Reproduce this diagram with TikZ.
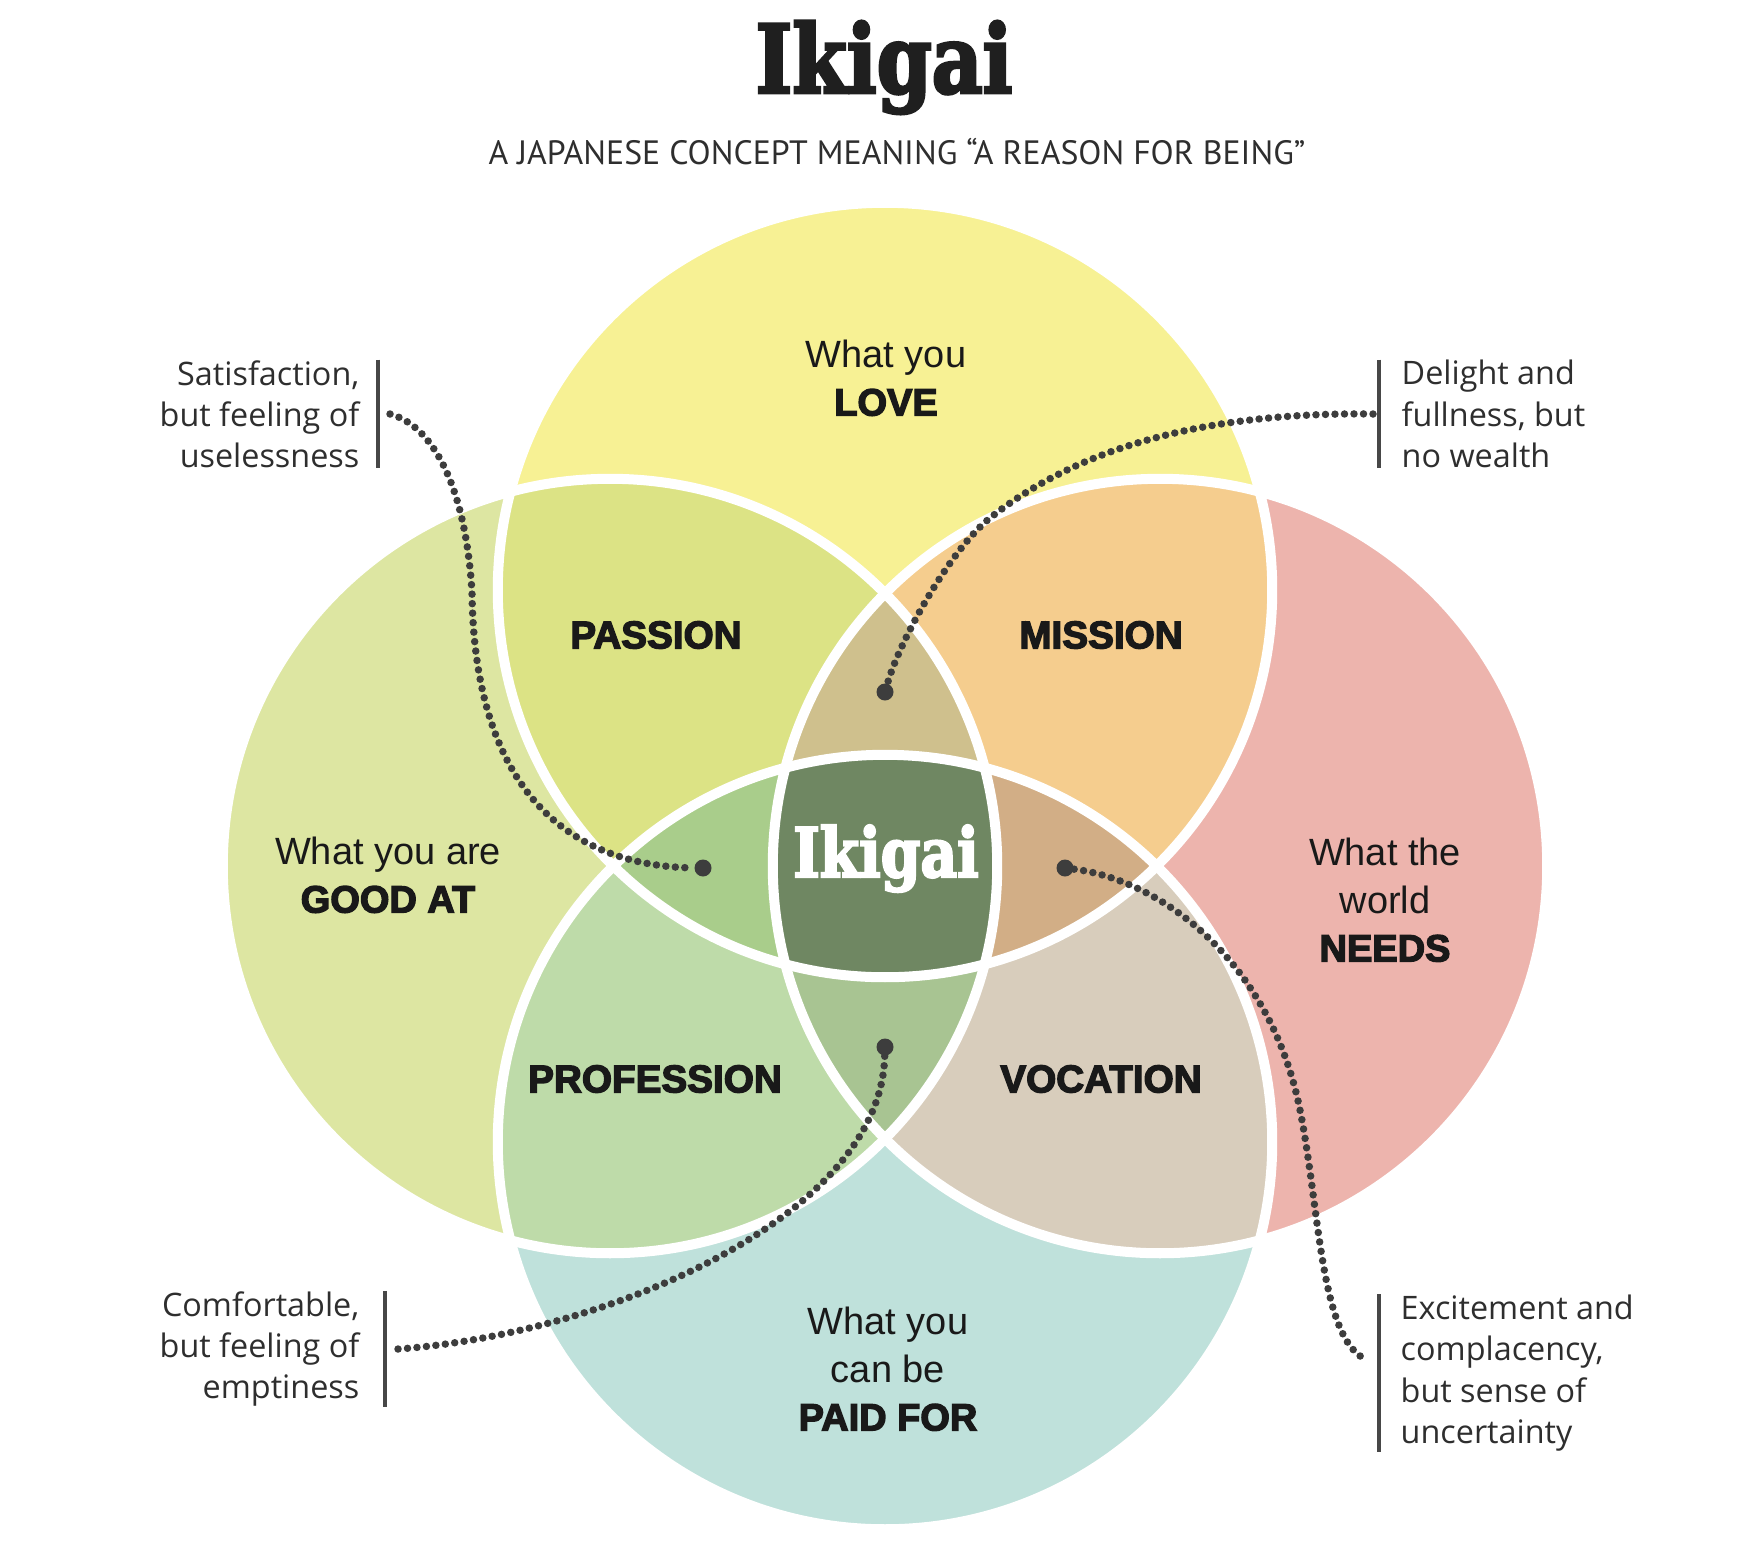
\documentclass[tikz,border=0pt]{standalone}
\usepackage{fontspec}
\setmainfont{Open Sans}
\newfontfamily\helv{Liberation Sans}
\newfontfamily\heavy{Liberation Sans}[BoldFeatures={FakeBold=3.5}]
\newfontfamily\slab{DejaVu Serif Condensed}[FakeStretch=0.92, BoldFeatures={FakeBold=3}]
\newfontfamily\subfont{PT Sans}
\usetikzlibrary{calc}

\definecolor{love}{HTML}{F7F194}
\definecolor{goodat}{HTML}{DDE6A2}
\definecolor{needs}{HTML}{EDB4AD}
\definecolor{paidfor}{HTML}{BFE1DB}
\definecolor{passion}{HTML}{DCE385}
\definecolor{mission}{HTML}{F5CD8E}
\definecolor{profession}{HTML}{BEDBA9}
\definecolor{vocation}{HTML}{D8CDBC}
\definecolor{uppertri}{HTML}{CFC08D}
\definecolor{lefttri}{HTML}{A9CD8B}
\definecolor{righttri}{HTML}{D2AE86}
\definecolor{lowertri}{HTML}{A8C492}
\definecolor{core}{HTML}{6F8762}

\def\rad{3.87cm}
\def\heavyword#1{{\heavy\bfseries #1}}

\tikzset{
  circtext/.style={align=center, inner sep=0pt, text=black!90, font=\helv\fontsize{10.8}{13.6}\selectfont},
  zonetext/.style={inner sep=0pt, text=black!90, font=\heavy\bfseries\fontsize{11}{13}\selectfont},
  calltext/.style={inner sep=0pt, text=black!82, font=\fontsize{9.2}{11.7}\selectfont},
  bar/.style={line width=0.4mm, color=black!72},
  dotline/.style={line width=0.75mm, dash pattern=on 0pt off 0.95mm, line cap=round, color=black!76},
  bigdot/.style={circle, fill=black!76, inner sep=0pt, minimum size=1.7mm}
}

\begin{document}
\begin{tikzpicture}[x=0.01cm, y=-0.01cm]
			%%%%% START %%%%%
			\useasboundingbox (0,0) rectangle (1752,1566);
			
			\coordinate (T) at (885,590);
			\coordinate (B) at (885,1142);
			\coordinate (L) at (610,866);
			\coordinate (R) at (1160,866);
			
			% the four circles
			\fill[love] (T) circle (\rad);
			\fill[goodat] (L) circle (\rad);
			\fill[needs] (R) circle (\rad);
			\fill[paidfor] (B) circle (\rad);
			
			% overlaps of two
			\begin{scope}
				\clip (T) circle (\rad);
				\fill[passion] (L) circle (\rad);
				\fill[mission] (R) circle (\rad);
			\end{scope}
			\begin{scope}
				\clip (B) circle (\rad);
				\fill[profession] (L) circle (\rad);
				\fill[vocation] (R) circle (\rad);
			\end{scope}
			
			% overlaps of three
			\begin{scope}
				\clip (L) circle (\rad);
				\clip (R) circle (\rad);
				\fill[uppertri] (T) circle (\rad);
				\fill[lowertri] (B) circle (\rad);
			\end{scope}
			\begin{scope}
				\clip (T) circle (\rad);
				\clip (B) circle (\rad);
				\fill[lefttri] (L) circle (\rad);
				\fill[righttri] (R) circle (\rad);
			\end{scope}
			
			% all four
			\begin{scope}
				\clip (T) circle (\rad);
				\clip (B) circle (\rad);
				\clip (L) circle (\rad);
				\fill[core] (R) circle (\rad);
			\end{scope}
			
			\draw[line width=1mm, color=white] (T) circle (\rad);
			\draw[line width=1mm, color=white] (L) circle (\rad);
			\draw[line width=1mm, color=white] (R) circle (\rad);
			\draw[line width=1mm, color=white] (B) circle (\rad);
			
			% headings
			\node[anchor=base, text=black!88, font=\slab\bfseries\fontsize{27}{27}\selectfont] (title) at (884,93) {Ikigai};
			\node[text=black!82, font=\subfont\fontsize{9.6}{11}\selectfont] (subtitle) at (897,152) {A JAPANESE CONCEPT MEANING “A REASON FOR BEING”};
			
			\node[circtext] (love) at (886,378) {What you\\\heavyword{LOVE}};
			\node[circtext] (goodat) at (388,875) {What you are\\\heavyword{GOOD AT}};
			\node[circtext] (needs) at (1385,900) {What the\\world\\\heavyword{NEEDS}};
			\node[circtext] (paidfor) at (888,1369) {What you\\can be\\\heavyword{PAID FOR}};
			
			\node[zonetext] (passion) at (656,635) {PASSION};
			\node[zonetext] (mission) at (1101,635) {MISSION};
			\node[zonetext] (profession) at (655,1079) {PROFESSION};
			\node[zonetext] (vocation) at (1101,1079) {VOCATION};
			
			\node[anchor=base, text=white, font=\slab\bfseries\fontsize{19.5}{20}\selectfont] (ikigai) at (886,877) {Ikigai};
			
			% side notes
			\node[calltext, align=right, anchor=east] (useless) at (360,414) {Satisfaction,\\but feeling of\\uselessness};
			\node[calltext, align=left, anchor=west] (nowealth) at (1401,414) {Delight and\\fullness, but\\no wealth};
			\node[calltext, align=right, anchor=east] (empty) at (360,1349) {Comfortable,\\but feeling of\\emptiness};
			\node[calltext, align=left, anchor=west] (uncertain) at (1400,1373) {Excitement and\\complacency,\\but sense of\\uncertainty};
			
			\draw[bar] ([xshift=1.8mm]useless.north east) -- ([xshift=1.8mm]useless.south east);
			\draw[bar] ([xshift=-2.2mm]nowealth.north west) -- ([xshift=-2.2mm]nowealth.south west);
			\draw[bar] ([xshift=2.5mm]empty.north east) -- ([xshift=2.5mm]empty.south east);
			\draw[bar] ([xshift=-2.1mm]uncertain.north west) -- ([xshift=-2.1mm]uncertain.south west);
			
			\node[bigdot] (d-useless) at (703,868) {};
			\node[bigdot] (d-nowealth) at (885,692) {};
			\node[bigdot] (d-empty) at (885,1047) {};
			\node[bigdot] (d-uncertain) at (1065,868) {};
			
			\draw[dotline] ([xshift=3mm]useless.east) .. controls (430,425) and (465,480) .. (472,592)
				.. controls (474,780) and (560,866) .. (d-useless);
			\draw[dotline] ([xshift=-2.8mm]nowealth.west) .. controls (1230,412) and (1090,438) .. (990,518)
				.. controls (950,550) and (900,640) .. (d-nowealth);
			\draw[dotline] ([xshift=3.8mm]empty.east) .. controls (600,1335) and (880,1220) .. (d-empty);
			\draw[dotline] (d-uncertain) .. controls (1160,880) and (1270,960) .. (1300,1110)
				.. controls (1320,1210) and (1320,1340) .. ([xshift=-3.3mm,yshift=1.3mm]uncertain.west);
			
			%%%%% END %%%%%
\end{tikzpicture}
\end{document}
